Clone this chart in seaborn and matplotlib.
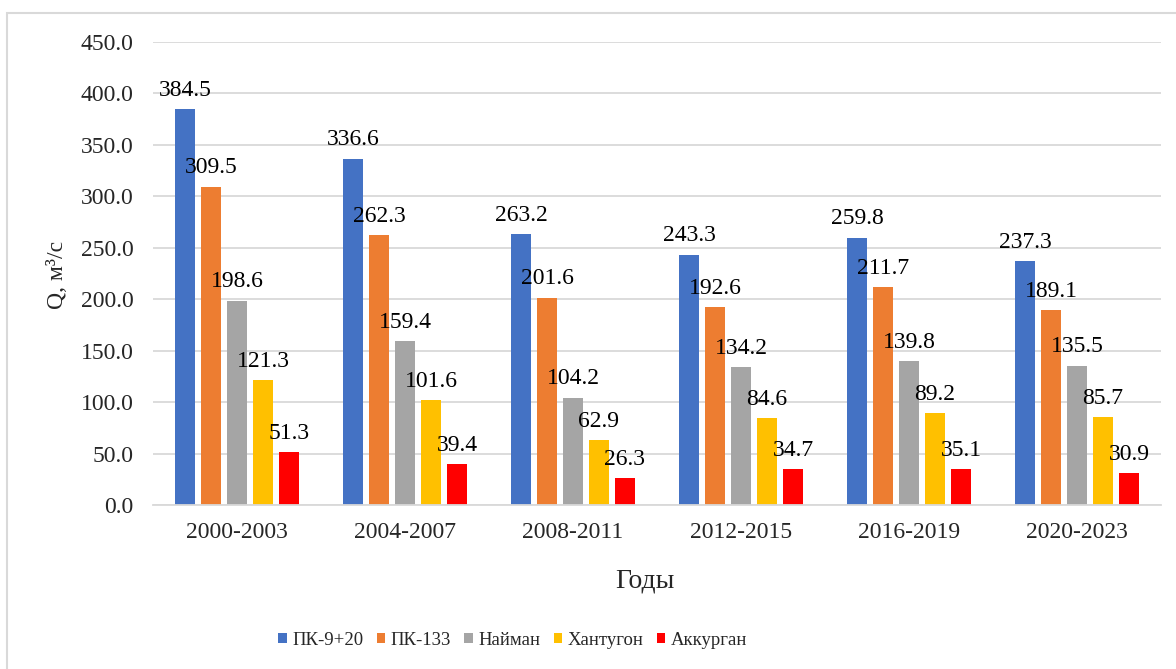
import pandas as pd
import numpy as np
import matplotlib.pyplot as plt
import seaborn as sns
from matplotlib.patches import Rectangle

periods = ["2000-2003", "2004-2007", "2008-2011", "2012-2015", "2016-2019", "2020-2023"]
stations = ["ПК-9+20", "ПК-133", "Найман", "Хантугон", "Аккурган"]
pk920 = [384.5, 336.6, 263.2, 243.3, 259.8, 237.3]
pk133 = [309.5, 262.3, 201.6, 192.6, 211.7, 189.1]
naiman = [198.6, 159.4, 104.2, 134.2, 139.8, 135.5]
khantugon = [121.3, 101.6, 62.9, 84.6, 89.2, 85.7]
akkurgan = [51.3, 39.4, 26.3, 34.7, 35.1, 30.9]
colors = ["#4472C4", "#ED7D31", "#A5A5A5", "#FFC000", "#FF0000"]

rows = []
for name, vals in zip(stations, [pk920, pk133, naiman, khantugon, akkurgan]):
    for p, v in zip(periods, vals):
        rows.append({"Годы": p, "Станция": name, "Q": v})
df = pd.DataFrame(rows)

sns.set_style("white")
plt.rcParams['font.family'] = ['Liberation Serif', 'DejaVu Serif']

fig = plt.figure(figsize=(11.76, 6.69), dpi=100)
ax = fig.add_axes([0.1301, 0.2451, 0.8571, 0.6921])

sns.barplot(data=df, x="Годы", y="Q", hue="Станция", order=periods, hue_order=stations,
            palette=colors, saturation=1, width=0.774, gap=0.21, linewidth=0, ax=ax)

for cont in ax.containers:
    ax.bar_label(cont, fmt="%.1f", padding=6, fontsize=17, color="black")

ax.set_ylim(0, 450)
ax.set_yticks(np.arange(0, 451, 50))
ax.set_yticklabels([f"{v:.1f}" for v in np.arange(0, 451, 50)], fontsize=17)
ax.tick_params(axis="x", labelsize=17, length=0, pad=12)
ax.tick_params(axis="y", length=0, pad=14)
ax.set_xlim(-0.5, len(periods) - 0.5)
ax.yaxis.grid(True, color="#D9D9D9", linewidth=1.3)
ax.set_axisbelow(True)
for s in ["top", "right", "left"]:
    ax.spines[s].set_visible(False)
ax.spines["bottom"].set_color("#D9D9D9")
ax.spines["bottom"].set_linewidth(1.3)

ax.set_xlabel("Годы", fontsize=20)
ax.xaxis.set_label_coords(0.488, -0.138)
ax.set_ylabel("Q, м³/с", fontsize=17)
ax.yaxis.set_label_coords(-0.084, 0.497)

ax.get_legend().remove()
handles, labels = ax.get_legend_handles_labels()
fig.legend(handles, labels, loc="center", bbox_to_anchor=(0.436, 0.043), ncol=5,
           frameon=False, fontsize=13.5, handlelength=0.45, handleheight=0.45,
           handletextpad=0.3, columnspacing=0.7)

fig.patches.append(Rectangle((7 / 1176, -0.1), 1.2, 1 - 13 / 669 + 0.1,
                             transform=fig.transFigure, fill=False,
                             edgecolor="#D9D9D9", linewidth=1.5))

fig.savefig("out.png", dpi=100)
